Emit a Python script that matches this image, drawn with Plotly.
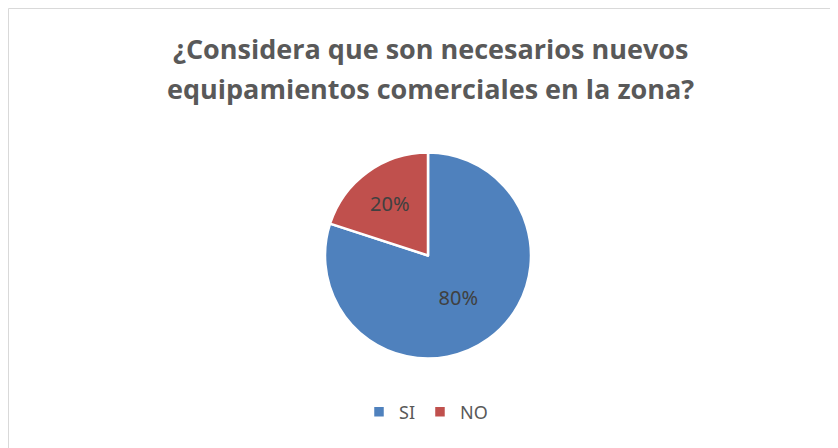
import plotly.graph_objects as go

labels = ["SI", "NO"]
values = [80, 20]
colors = ["#4F81BD", "#C0504D"]
title_lines = ["¿Considera que son necesarios nuevos", "equipamientos comerciales en la zona?"]

W, H = 838, 448

fig = go.Figure(
    data=[go.Pie(
        labels=labels,
        values=values,
        sort=False,
        direction="clockwise",
        rotation=0,
        marker=dict(colors=colors, line=dict(color="white", width=2.5)),
        texttemplate="%{percent:.0%}",
        textposition="inside",
        insidetextorientation="horizontal",
        textfont=dict(family="Noto Sans, Open Sans, sans-serif", size=20, color="#404040"),
        domain=dict(x=[317 / W, 523 / W], y=[1 - 351 / H, 1 - 144 / H]),
        hoverinfo="label+percent",
    )]
)

# title as two annotations to match the wide line spacing
for i, line in enumerate(title_lines):
    fig.add_annotation(
        text="<b>" + line + "</b>",
        xref="paper", yref="paper",
        x=422 / W, y=1 - (40 + 41 * i) / H,
        xanchor="center", yanchor="middle",
        showarrow=False,
        font=dict(family="Open Sans, Noto Sans, sans-serif", size=27, color="#595959"),
    )

fig.update_layout(
    width=W,
    height=H,
    margin=dict(l=0, r=0, t=0, b=0),
    paper_bgcolor="white",
    plot_bgcolor="white",
    legend=dict(
        orientation="h",
        x=418 / W,
        xanchor="center",
        y=1 - 404 / H,
        yanchor="middle",
        font=dict(family="Noto Sans, Open Sans, sans-serif", size=18, color="#595959"),
        itemwidth=30,
    ),
    shapes=[dict(
        type="rect",
        xref="paper", yref="paper",
        x0=0.5 / W, x1=1.02, y0=-0.02, y1=1 - 0.5 / H,
        line=dict(color="#D9D9D9", width=1),
    )],
)

fig.write_html("out.html")
